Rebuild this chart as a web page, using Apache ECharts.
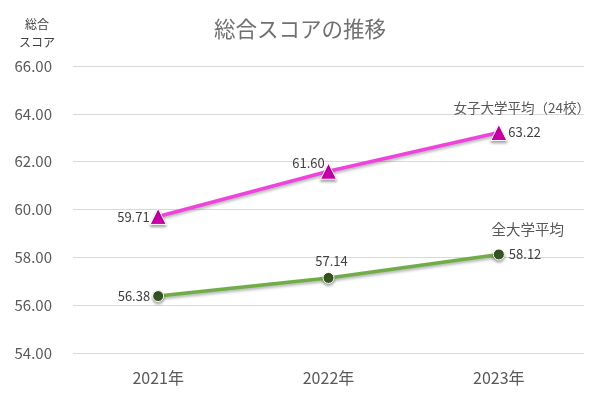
<!DOCTYPE html>
<html><head><meta charset="utf-8">
<script src="https://cdn.jsdelivr.net/npm/echarts@6/dist/echarts.min.js"></script>
<style>html,body{margin:0;padding:0;background:#fff}#c{width:600px;height:400px}</style>
</head><body><div id="c"></div>
<script>
var categories = ['2021年', '2022年', '2023年'];
var womenValues = [59.71, 61.60, 63.22];
var allValues = [56.38, 57.14, 58.12];
var womenName = '女子大学平均（24校）';
var allName = '全大学平均';

// label placement (style only)
var womenLabelStyle = [
  { position: 'left', distance: 0, offset: [0, 1] },
  { position: 'top', distance: 0, offset: [-20, 7] },
  { position: 'right', distance: 1, offset: [0, 0] }
];
var allLabelStyle = [
  { position: 'left', distance: 2, offset: [0, 0] },
  { position: 'top', distance: 4, offset: [3, 0] },
  { position: 'right', distance: 4, offset: [0, 0] }
];

var font = '"Noto Sans CJK JP", "Noto Sans", sans-serif';
function mkData(vals, styles) {
  return vals.map(function (v, i) {
    return { value: v, label: styles[i] };
  });
}
var chart = echarts.init(document.getElementById('c'));
chart.setOption({
  animation: false,
  title: { text: '総合スコアの推移', left: 'center', top: 13,
    textStyle: { fontFamily: font, fontSize: 21.5, fontWeight: 'normal', color: '#707070' } },
  grid: { left: 73, right: 16, top: 66, bottom: 47 },
  xAxis: { type: 'category', data: categories, boundaryGap: true,
    axisLine: { show: false }, axisTick: { show: false },
    axisLabel: { fontFamily: font, fontSize: 16, color: '#595959', margin: 17 } },
  yAxis: { type: 'value', min: 54, max: 66, interval: 2,
    name: '総合\nスコア', nameLocation: 'end', nameGap: 15,
    nameTextStyle: { fontFamily: font, fontSize: 12, color: '#404040', align: 'center', padding: [0, 0, 0, -72], lineHeight: 18 },
    axisLine: { show: false }, axisTick: { show: false },
    splitLine: { lineStyle: { color: '#d9d9d9', width: 1 } },
    axisLabel: { fontFamily: font, fontSize: 15, color: '#595959', margin: 21,
      formatter: function (v) { return v.toFixed(2); } } },
  series: [
    { name: womenName, type: 'line', data: mkData(womenValues, womenLabelStyle),
      symbol: 'triangle', symbolSize: 16,
      lineStyle: { color: '#ee44dd', width: 3.5, shadowColor: 'rgba(0,0,0,0.3)', shadowBlur: 3, shadowOffsetY: 2 },
      itemStyle: { color: '#cc00aa', borderColor: '#fff', borderWidth: 1, shadowColor: 'rgba(0,0,0,0.35)', shadowBlur: 3, shadowOffsetY: 2 },
      label: { show: true, fontFamily: font, fontSize: 13, color: '#404040',
        formatter: function (p) { return p.value.toFixed(2); } },
      markPoint: { symbol: 'circle', symbolSize: 0,
        data: [{ coord: [2, womenValues[2]], value: womenName }],
        label: { show: true, position: 'top', distance: 18, offset: [23, 0], fontFamily: font, fontSize: 13.5, color: '#595959',
          formatter: womenName } } },
    { name: allName, type: 'line', data: mkData(allValues, allLabelStyle),
      symbol: 'circle', symbolSize: 11,
      lineStyle: { color: '#70ad47', width: 3.5, shadowColor: 'rgba(0,0,0,0.3)', shadowBlur: 3, shadowOffsetY: 2 },
      itemStyle: { color: '#375623', borderColor: '#fff', borderWidth: 1, shadowColor: 'rgba(0,0,0,0.35)', shadowBlur: 3, shadowOffsetY: 2 },
      label: { show: true, fontFamily: font, fontSize: 13, color: '#404040',
        formatter: function (p) { return p.value.toFixed(2); } },
      markPoint: { symbol: 'circle', symbolSize: 0,
        data: [{ coord: [2, allValues[2]], value: allName }],
        label: { show: true, position: 'top', distance: 18, offset: [29, 0], fontFamily: font, fontSize: 14.5, color: '#595959',
          formatter: allName } } }
  ]
});
</script></body></html>
